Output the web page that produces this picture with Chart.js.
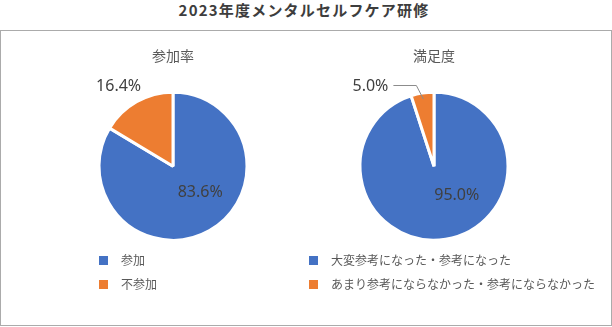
<!DOCTYPE html>
<html lang="ja">
<head>
<meta charset="utf-8">
<title>2023年度メンタルセルフケア研修</title>
<script src="https://cdn.jsdelivr.net/npm/chart.js@4.4.1/dist/chart.umd.min.js"></script>
<style>
  html, body { margin: 0; padding: 0; background: #fff; }
  #page { position: relative; width: 612px; height: 327px; overflow: hidden;
          font-family: "Noto Sans CJK JP", "Noto Sans", sans-serif; }
  #mainTitle { position: absolute; left: -2px; top: 0; width: 612px; text-align: center;
               font-size: 15px; font-weight: bold; letter-spacing: 1.2px; line-height: 20px; color: #3d3d3d; }
  #frame { position: absolute; left: 0; top: 30px; width: 612px; height: 296px;
           box-sizing: border-box; border: 1px solid #ababab; }
  canvas { position: absolute; }
  .legend { position: absolute; top: 248px; font-size: 12px; color: #595959; }
  .legend div { position: relative; height: 24px; line-height: 24px; padding-left: 22px; white-space: nowrap; }
  .legend span { position: absolute; left: 0; top: 8px; width: 9px; height: 9px; }
</style>
</head>
<body>
<div id="page">
  <div id="mainTitle">2023年度メンタルセルフケア研修</div>
  <div id="frame"></div>
  <canvas id="rateChart" width="260" height="218" style="left:43px; top:40px;"></canvas>
  <canvas id="satChart" width="260" height="218" style="left:304px; top:40px;"></canvas>
  <div id="rateLegend" class="legend" style="left:99px;"></div>
  <div id="satLegend" class="legend" style="left:309px;"></div>
</div>
<script>
// 参加率
var rateLabels = ['参加', '不参加'];
var rateValues = [83.6, 16.4];
// 満足度
var satLabels = ['大変参考になった・参考になった', 'あまり参考にならなかった・参考にならなかった'];
var satValues = [95.0, 5.0];

var sliceColors = ['#4472C4', '#ED7D31'];

// percent labels: inside ones at half radius, outside ones beyond the rim, with small nudges
var sliceLabels = {
    id: 'sliceLabels',
    afterDatasetsDraw: function (chart, args, opts) {
        var ctx = chart.ctx;
        var meta = chart.getDatasetMeta(0);
        var values = chart.data.datasets[0].data;
        ctx.save();
        ctx.font = '16px "Noto Sans"';
        ctx.fillStyle = '#404040';
        ctx.strokeStyle = '#8c8c8c';
        ctx.lineWidth = 1;
        ctx.textAlign = 'center';
        ctx.textBaseline = 'middle';
        meta.data.forEach(function (arc, i) {
            var p = opts.place[i];
            var a = arc.getProps(['x', 'y', 'startAngle', 'endAngle', 'outerRadius'], true);
            var mid = (a.startAngle + a.endAngle) / 2;
            var dist = a.outerRadius * (p.inside ? 0.5 : 1.3);
            var x = a.x + Math.cos(mid) * dist + p.dx;
            var y = a.y + Math.sin(mid) * dist + p.dy;
            var text = values[i].toFixed(1) + '%';
            ctx.fillText(text, x, y);
            if (p.leader) {
                var ex = a.x + Math.cos(mid) * (a.outerRadius - 6);
                var ey = a.y + Math.sin(mid) * (a.outerRadius - 6);
                var sx = x + ctx.measureText(text).width / 2 + 5;
                ctx.beginPath();
                ctx.moveTo(sx, Math.round(y) - 0.5);
                ctx.lineTo(ex - 7, Math.round(y) - 0.5);
                ctx.lineTo(ex, ey);
                ctx.stroke();
            }
        });
        ctx.restore();
    }
};

function makePie(id, title, labels, values, place) {
    return new Chart(document.getElementById(id), {
        type: 'pie',
        data: {
            labels: labels,
            datasets: [{
                data: values,
                backgroundColor: sliceColors,
                borderColor: '#ffffff',
                borderWidth: 3
            }]
        },
        options: {
            responsive: false,
            animation: false,
            radius: 74,
            events: [],
            plugins: {
                legend: { display: false },
                tooltip: { enabled: false },
                title: {
                    display: true,
                    text: title,
                    color: '#595959',
                    font: { family: '"Noto Sans CJK JP"', size: 14, weight: 'normal' },
                    padding: { top: 7.6, bottom: 10 }
                },
                sliceLabels: { place: place }
            }
        },
        plugins: [sliceLabels]
    });
}

function buildLegend(id, labels) {
    var box = document.getElementById(id);
    labels.forEach(function (text, i) {
        var row = document.createElement('div');
        var key = document.createElement('span');
        key.style.background = sliceColors[i];
        row.appendChild(key);
        row.appendChild(document.createTextNode(text));
        box.appendChild(row);
    });
}

makePie('rateChart', '参加率', rateLabels, rateValues, [
    { inside: true, dx: 9, dy: -6 },
    { inside: false, dx: -7, dy: 4 }
]);
makePie('satChart', '満足度', satLabels, satValues, [
    { inside: true, dx: 17, dy: -7 },
    { inside: false, dx: -48.5, dy: 15, leader: true }
]);
buildLegend('rateLegend', rateLabels);
buildLegend('satLegend', satLabels);
</script>
</body>
</html>
